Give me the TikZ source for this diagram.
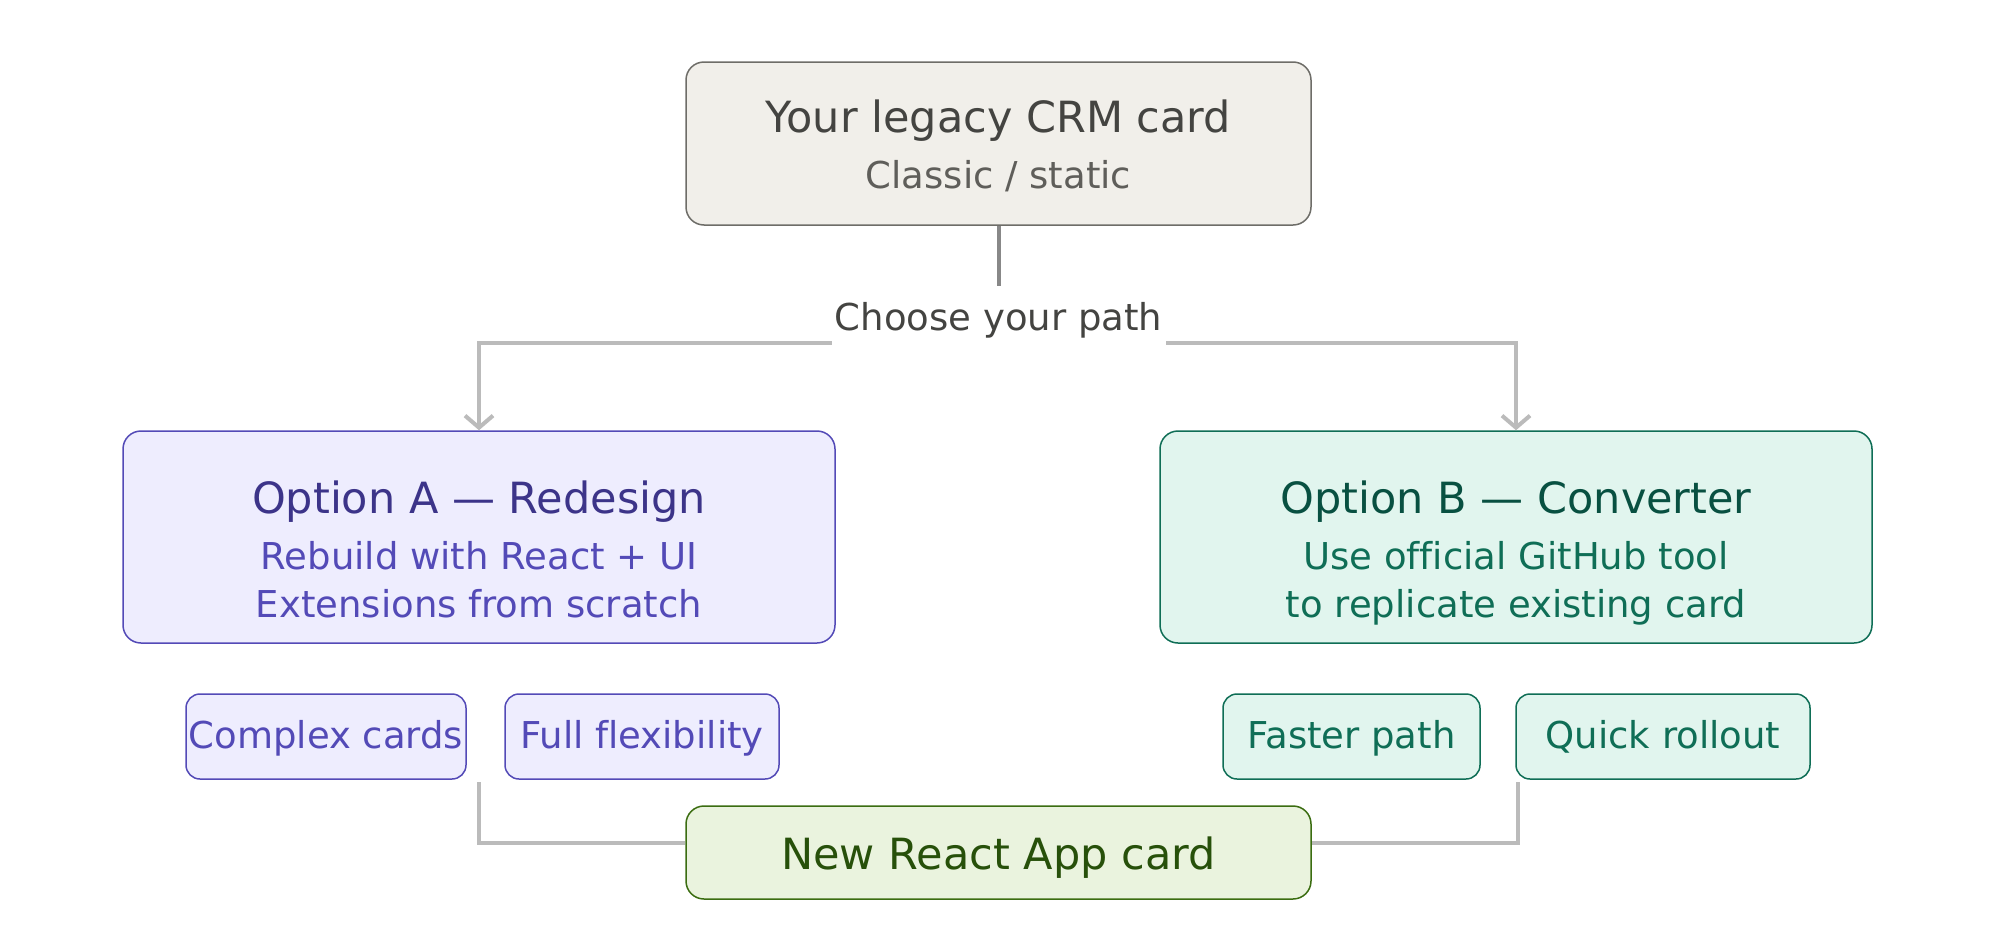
\documentclass[tikz,border=0pt]{standalone}
\usepackage{fontspec}
\setmainfont{DejaVu Sans}[Ligatures={NoCommon}]
\usetikzlibrary{arrows.meta,calc}
\definecolor{topFill}{HTML}{F1EFEA}
\definecolor{topLine}{HTML}{6E6D68}
\definecolor{topTitle}{HTML}{444441}
\definecolor{topSub}{HTML}{5F5E5A}
\definecolor{aFill}{HTML}{EEEDFE}
\definecolor{aLine}{HTML}{534AB7}
\definecolor{aTitle}{HTML}{3C3489}
\definecolor{aText}{HTML}{534AB7}
\definecolor{bFill}{HTML}{E1F5EE}
\definecolor{bLine}{HTML}{0F6E56}
\definecolor{bTitle}{HTML}{085041}
\definecolor{bText}{HTML}{0F6E56}
\definecolor{nFill}{HTML}{EAF3DE}
\definecolor{nLine}{HTML}{3B6D11}
\definecolor{nText}{HTML}{27500A}
\definecolor{linkLight}{HTML}{BBBBBB}
\definecolor{linkDark}{HTML}{888888}
\newcommand\fbig{\fontsize{43}{50}\selectfont}
\newcommand\fsmall{\fontsize{37}{44}\selectfont}
\tikzset{
  card/.style={draw, rounded corners=18pt, line width=1.5pt, inner sep=0pt},
  chip/.style={draw, rounded corners=14pt, line width=1.5pt, inner sep=0pt, minimum height=85pt},
  txt/.style={inner sep=0pt, anchor=base},
  link/.style={draw=linkLight, line width=4pt},
}
\begin{document}
\begin{tikzpicture}[x=1pt,y=-1pt]
\useasboundingbox[fill=white] (0,0) rectangle (1993,937);

% boxes
\node[card, fill=topFill, draw=topLine, minimum width=625pt, minimum height=163pt] (top) at (998.5,143.5) {};
\node[card, fill=aFill, draw=aLine, minimum width=712pt, minimum height=212pt] (A) at (479,537) {};
\node[card, fill=bFill, draw=bLine, minimum width=712pt, minimum height=212pt] (B) at (1516,537) {};
\node[chip, fill=aFill, draw=aLine, minimum width=280pt] (ca) at (326,736.5) {};
\node[chip, fill=aFill, draw=aLine, minimum width=274pt] (cb) at (642,736.5) {};
\node[chip, fill=bFill, draw=bLine, minimum width=257pt] (cc) at (1351.5,736.5) {};
\node[chip, fill=bFill, draw=bLine, minimum width=294pt] (cd) at (1663,736.5) {};
\node[card, fill=nFill, draw=nLine, minimum width=625pt, minimum height=93pt] (new) at (998.5,852.5) {};

% texts
\node[txt, text=topTitle] (topT) at (998.5,132) {\fbig Your legacy CRM card};
\node[txt, text=topSub] (topS) at (998.5,188) {\fsmall Classic / static};
\node[txt, text=aTitle] (AT) at (479,513) {\fbig Option A — Redesign};
\node[txt, text=aText] (A1) at (479,569) {\fsmall Rebuild with React + UI};
\node[txt, text=aText] (A2) at (479,617) {\fsmall Extensions from scratch};
\node[txt, text=bTitle] (BT) at (1516,513) {\fbig Option B — Converter};
\node[txt, text=bText] (B1) at (1516,569) {\fsmall Use official GitHub tool};
\node[txt, text=bText] (B2) at (1516,617) {\fsmall to replicate existing card};
\node[txt, text=aText] (caT) at (326,748) {\fsmall Complex cards};
\node[txt, text=aText] (cbT) at (642,748) {\fsmall Full flexibility};
\node[txt, text=bText] (ccT) at (1351.5,748) {\fsmall Faster path};
\node[txt, text=bText] (cdT) at (1663,748) {\fsmall Quick rollout};
\node[txt, text=nText] (newT) at (998.5,869) {\fbig New React App card};

% connectors from top
\coordinate (split) at (998.5,343);
\draw[link, -{Straight Barb[length=12pt,width=28pt]}] (split) -| (A.north);
\draw[link, -{Straight Barb[length=12pt,width=28pt]}] (split) -| (B.north);
\draw[draw=linkDark, line width=4pt] (top.south) -- (split);
\node[fill=white, inner xsep=2pt, inner ysep=0pt, minimum height=64pt, minimum width=334pt] (choose) at (998.5,318) {};
\node[txt, text=topTitle] (chooseT) at (998.5,330) {\fsmall Choose your path};

% connectors to new card
\coordinate (aL) at (479,782);
\coordinate (bL) at (1518,782);
\draw[link] (aL) |- ([yshift=10pt]new.west);
\draw[link] (bL) |- ([yshift=10pt]new.east);
\end{tikzpicture}
\end{document}
